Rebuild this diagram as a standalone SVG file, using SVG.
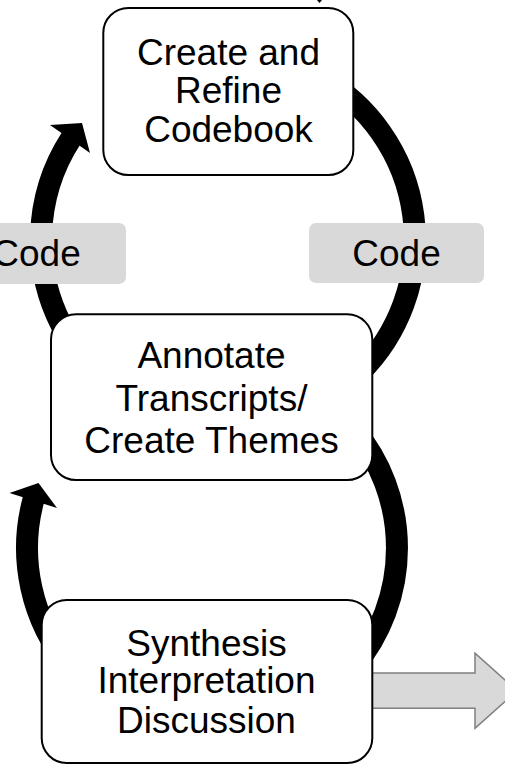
<svg xmlns="http://www.w3.org/2000/svg" width="505" height="765" viewBox="0 0 505 765">
<style>
.arc{fill:none;stroke:#000;stroke-width:22;stroke-linecap:butt}
.head{fill:#000}
.box{fill:#fff;stroke:#000;stroke-width:2}
.lbl{fill:#d9d9d9}
text{font-family:"Liberation Sans",Arial,sans-serif;font-size:37px;fill:#000;text-anchor:middle}
</style>
<rect width="505" height="765" fill="#fff"/>
<g id="connectors">
<path class="arc" d="M 66.1 333.5 A 187 187 0 0 1 71.2 138.2"/>
<polygon class="head" points="50,125 82,123 90,153"/>
<path class="arc" d="M 321.5 78.1 A 187 187 0 0 1 360.2 372.2"/>
<path class="arc" d="M 70.3 666.9 A 185 185 0 0 1 33.6 499.2"/>
<polygon class="head" points="9.5,493 38.5,483 57,508"/>
<path class="arc" d="M 353.7 429.1 A 185 185 0 0 1 353.7 666.9"/>
<polygon class="head" points="317,0 322,0 319.5,3"/>
<polygon points="365,673 475,673 475,653.3 517,690.8 475,728.3 475,708.3 365,708.3" fill="#d9d9d9" stroke="#7f7f7f" stroke-width="1.5"/>
</g>
<g id="code-left">
<rect class="lbl" x="-49" y="223" width="175" height="61" rx="7"/>
<text x="36.5" y="265.5">Code</text>
</g>
<g id="code-right">
<rect class="lbl" x="309" y="223" width="175" height="60" rx="7"/>
<text x="396.5" y="265.5">Code</text>
</g>
<g id="codebook">
<rect class="box" x="103.3" y="8" width="250" height="167" rx="25"/>
<text x="228.5" y="65">Create and</text>
<text x="228.5" y="103.3">Refine</text>
<text x="228.5" y="141.7">Codebook</text>
</g>
<g id="annotate">
<rect class="box" x="51" y="314.3" width="321.3" height="165.7" rx="25"/>
<text x="211.5" y="368.3">Annotate</text>
<text x="211.5" y="411">Transcripts/</text>
<text x="211.5" y="453.3">Create Themes</text>
</g>
<g id="synthesis">
<rect class="box" x="41.7" y="600" width="330.6" height="163" rx="25"/>
<text x="206.5" y="655.5">Synthesis</text>
<text x="206.5" y="693.3">Interpretation</text>
<text x="206.5" y="733.3">Discussion</text>
</g>
</svg>
